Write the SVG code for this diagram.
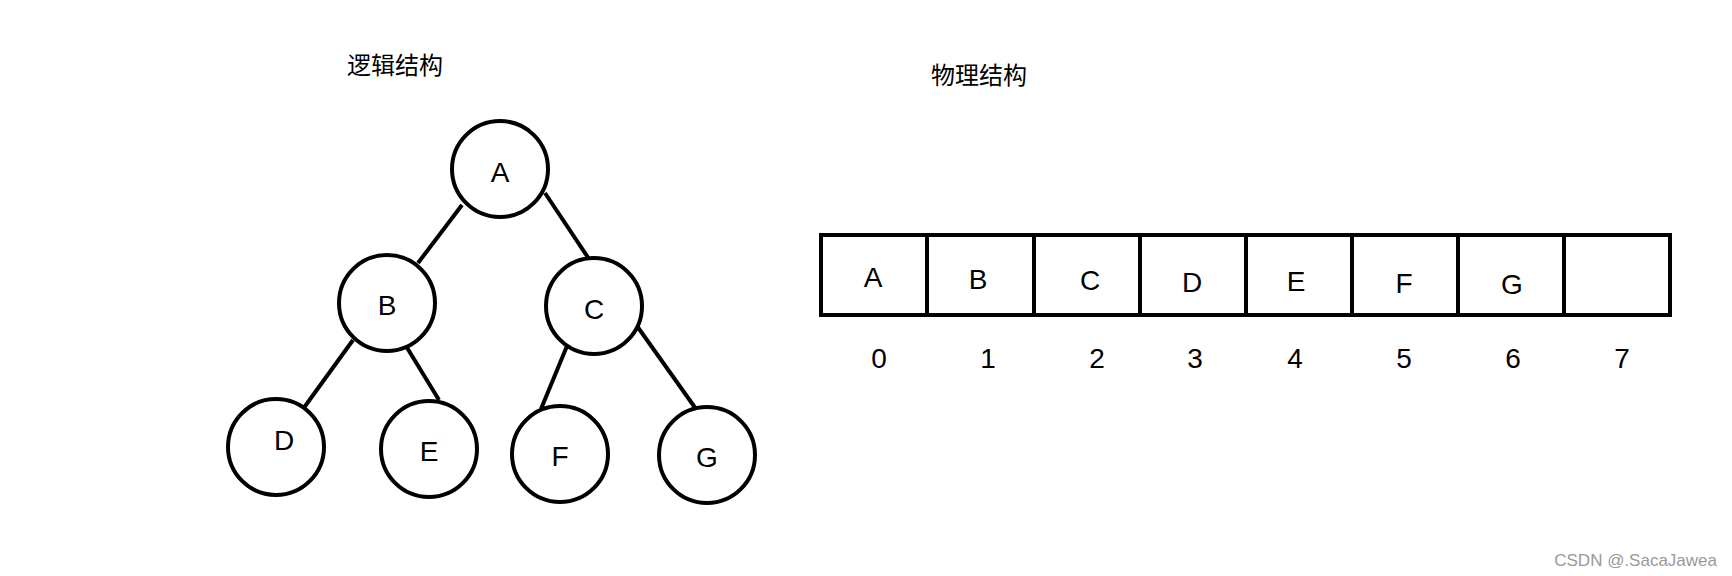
<svg xmlns="http://www.w3.org/2000/svg" width="1732" height="576" viewBox="0 0 1732 576">
<style>
.n{fill:#fff;stroke:#000;stroke-width:4}
.l{stroke:#000;stroke-width:4;fill:none}
.t{font-family:"Liberation Sans","Noto Sans CJK SC",sans-serif;font-size:28px;text-anchor:middle;dominant-baseline:central;fill:#000}
.h{font-family:"Noto Sans CJK SC",sans-serif;font-size:24px;text-anchor:middle;dominant-baseline:central;fill:#000}
</style>
<rect width="1732" height="576" fill="#fff"/>
<text class="h" x="395" y="63">逻辑结构</text>
<text class="h" x="979" y="73">物理结构</text>
<g id="connectors" class="l">
<line x1="462" y1="205" x2="418" y2="263"/>
<line x1="545" y1="193" x2="589" y2="259"/>
<line x1="353" y1="340" x2="303" y2="409"/>
<line x1="406" y1="346" x2="439" y2="400"/>
<line x1="567" y1="346" x2="541" y2="409"/>
<line x1="637" y1="326" x2="696" y2="409"/>
</g>
<g id="A"><circle class="n" cx="500" cy="169" r="48"/><text class="t" x="500" y="172">A</text></g>
<g id="B"><circle class="n" cx="387" cy="303" r="48"/><text class="t" x="387" y="305">B</text></g>
<g id="C"><circle class="n" cx="594" cy="306" r="48"/><text class="t" x="594" y="309">C</text></g>
<g id="D"><circle class="n" cx="276" cy="447" r="48"/><text class="t" x="284" y="440">D</text></g>
<g id="E"><circle class="n" cx="429" cy="449" r="48"/><text class="t" x="429" y="451">E</text></g>
<g id="F"><circle class="n" cx="560" cy="454" r="48"/><text class="t" x="560" y="456">F</text></g>
<g id="G"><circle class="n" cx="707" cy="455" r="48"/><text class="t" x="707" y="457">G</text></g>
<g id="array">
<rect class="l" x="821" y="235" width="849" height="80"/>
<path class="l" d="M927 235V315M1034 235V315M1140 235V315M1246 235V315M1352 235V315M1458 235V315M1564 235V315"/>
<text class="t" x="873" y="277">A</text>
<text class="t" x="978" y="279">B</text>
<text class="t" x="1090" y="280">C</text>
<text class="t" x="1192" y="282">D</text>
<text class="t" x="1296" y="281">E</text>
<text class="t" x="1404" y="283">F</text>
<text class="t" x="1512" y="284">G</text>
<text class="t" x="879" y="358">0</text>
<text class="t" x="988" y="358">1</text>
<text class="t" x="1097" y="358">2</text>
<text class="t" x="1195" y="358">3</text>
<text class="t" x="1295" y="358">4</text>
<text class="t" x="1404" y="358">5</text>
<text class="t" x="1513" y="358">6</text>
<text class="t" x="1622" y="358">7</text>
</g>
<text x="1717" y="560" font-family="Liberation Sans,sans-serif" font-size="17" fill="#999" text-anchor="end" dominant-baseline="central">CSDN @.SacaJawea</text>
</svg>
